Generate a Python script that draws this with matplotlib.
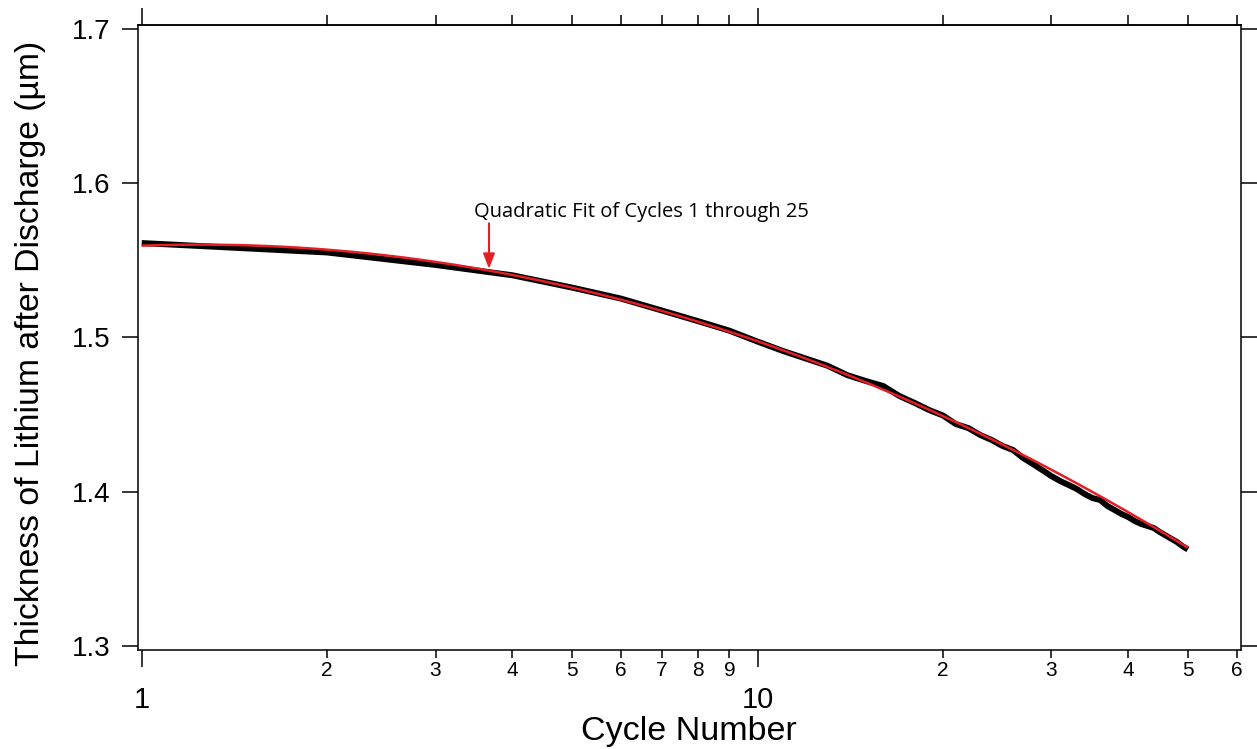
import numpy as np
import matplotlib
matplotlib.use("Agg")
import matplotlib.pyplot as plt
from matplotlib.ticker import FixedLocator, NullFormatter, FixedFormatter

# Lithium thickness after each discharge, cycles 1-50
cycles = np.arange(1, 51)
thickness = [
    1.5612, 1.5551, 1.5470, 1.5403, 1.5323, 1.5252, 1.5174, 1.5106, 1.5044, 1.4973,
    1.4912, 1.4862, 1.4816, 1.4755, 1.4717, 1.4685, 1.4620, 1.4575, 1.4529, 1.4494,
    1.4438, 1.4412, 1.4367, 1.4335, 1.4296, 1.4270, 1.4218, 1.4179, 1.4140, 1.4101,
    1.4069, 1.4043, 1.4017, 1.3984, 1.3958, 1.3946, 1.3907, 1.3881, 1.3855, 1.3835,
    1.3809, 1.3790, 1.3777, 1.3764, 1.3738, 1.3716, 1.3694, 1.3673, 1.3646, 1.3625,
]
fit_last_cycle = 25

major_x = [1, 10]
major_x_labels = ["1", "10"]
minor_x = [2, 3, 4, 5, 6, 7, 8, 9, 20, 30, 40, 50, 60]
minor_x_labels = ["2", "3", "4", "5", "6", "7", "8", "9", "2", "3", "4", "5", "6"]
y_ticks = [1.3, 1.4, 1.5, 1.6, 1.7]
y_tick_labels = ["1.3", "1.4", "1.5", "1.6", "1.7"]

annotation_text = "Quadratic Fit of Cycles 1 through 25"
x_label = "Cycle Number"
y_label = "Thickness of Lithium after Discharge (\u00b5m)"

BLACK = "#000000"
RED = "#e41e26"
AXIS_LW = 1.1

plt.rcParams["font.family"] = ["Liberation Sans", "DejaVu Sans"]

fig = plt.figure(figsize=(12.57, 7.49), dpi=100)
ax = fig.add_axes([0.1094, 0.1322, 0.8776, 0.8344])

# quadratic fit (in log cycle) over the first 25 cycles
n = np.asarray(cycles, dtype=float)
t = np.asarray(thickness)
coef = np.polyfit(np.log10(n[:fit_last_cycle]), t[:fit_last_cycle], 2)
n_fine = np.logspace(0, np.log10(n[-1]), 300)
fit_vals = np.polyval(coef, np.log10(n_fine))

ax.plot(n, t, color=BLACK, lw=4.3, solid_capstyle="butt", solid_joinstyle="round", zorder=2)
ax.plot(n_fine, fit_vals, color=RED, lw=1.8, solid_capstyle="butt", zorder=3)

ax.set_xscale("log")
ax.set_xlim(0.9844, 60.9)
ax.set_ylim(1.2973, 1.7026)

# bottom axis: major + minor ticks with labels
ax.xaxis.set_major_locator(FixedLocator(major_x))
ax.xaxis.set_major_formatter(FixedFormatter(major_x_labels))
ax.xaxis.set_minor_locator(FixedLocator(minor_x))
ax.xaxis.set_minor_formatter(FixedFormatter(minor_x_labels))
ax.tick_params(axis="x", which="major", direction="out", length=12, width=AXIS_LW,
               labelsize=21, pad=14, top=False)
ax.tick_params(axis="x", which="minor", direction="out", length=5.4, width=AXIS_LW,
               labelsize=15, pad=2.5, top=False)

# y axis: ticks on both sides, labels on the left
ax.yaxis.set_major_locator(FixedLocator(y_ticks))
ax.yaxis.set_major_formatter(FixedFormatter(y_tick_labels))
ax.yaxis.set_minor_locator(FixedLocator([]))
ax.tick_params(axis="y", which="major", direction="out", length=11.5, width=AXIS_LW,
               labelsize=20, pad=8, right=True, labelright=False)

# top axis mirrors the bottom ticks without labels
top = ax.secondary_xaxis("top")
top.xaxis.set_major_locator(FixedLocator(major_x))
top.xaxis.set_minor_locator(FixedLocator(minor_x))
top.xaxis.set_major_formatter(NullFormatter())
top.xaxis.set_minor_formatter(NullFormatter())
top.tick_params(axis="x", which="major", direction="out", length=12.2, width=AXIS_LW)
top.tick_params(axis="x", which="minor", direction="out", length=7, width=AXIS_LW)
top.spines["top"].set_linewidth(AXIS_LW)

for s in ax.spines.values():
    s.set_linewidth(AXIS_LW)

ax.set_xlabel(x_label, fontsize=24.5)
ax.xaxis.set_label_coords(0.5, -0.106)
ax.set_ylabel(y_label, fontsize=24.3)
ax.yaxis.set_label_coords(-0.083, 0.474)

# arrow pointing to the fitted curve
x_arrow = 3.664
y_tip = np.polyval(coef, np.log10(x_arrow)) + 0.0012
ax.annotate("", xy=(x_arrow, y_tip), xytext=(x_arrow, 1.5740),
            arrowprops=dict(arrowstyle="-|>,head_length=0.9,head_width=0.35",
                            color=RED, lw=1.5, shrinkA=0, shrinkB=0))
ax.text(3.465, 1.5813, annotation_text, fontsize=14.5, family=["Open Sans", "DejaVu Sans"],
        ha="left", va="center", color=BLACK)

fig.savefig("out.png", dpi=100, facecolor="white")
